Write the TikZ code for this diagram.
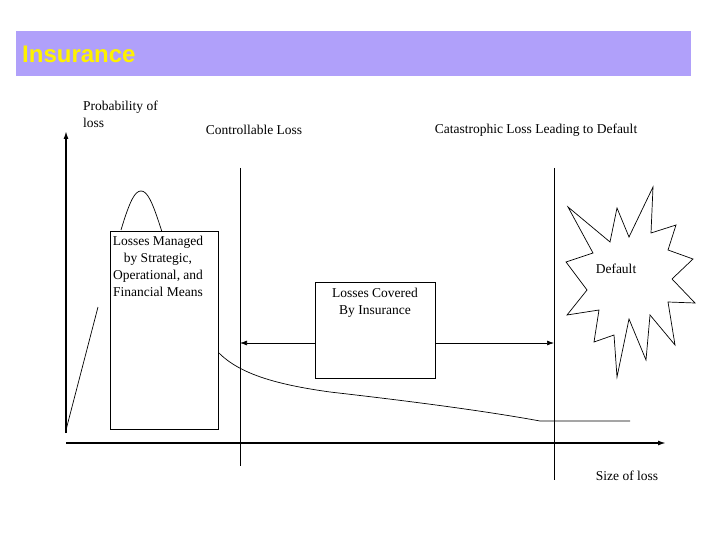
\documentclass[tikz,border=0pt]{standalone}
\usepackage{fontspec}
\setmainfont{Liberation Serif}
\newfontfamily\arial{Liberation Sans}
\definecolor{titlebg}{RGB}{176,160,250}
\begin{document}
\begin{tikzpicture}[x=1pt,y=-1pt,
  lbl/.style={font=\fontsize{13.5}{17}\selectfont,inner sep=0pt},
  axis/.style={line width=1.5pt,-{Latex[length=8pt,width=5pt]}},
  thin/.style={line width=0.7pt}]
\usetikzlibrary{arrows.meta}
\useasboundingbox (0,0) rectangle (720,540);
\fill[white] (0,0) rectangle (720,540);
\node[fill=titlebg,minimum width=675pt,minimum height=45pt,anchor=north west,inner sep=0pt] (title) at (16,31) {};
\node[anchor=west,font=\arial\bfseries\fontsize{24}{26}\selectfont,text=yellow,inner sep=0pt] (tt) at (22,54) {Insurance};
% curve
\draw[thin] (66,430) -- (98,307);
\draw[thin] (121,230) .. controls (130,200) and (135,191) .. (141,191) .. controls (147,191) and (152,200) .. (162,232);
\draw[thin] (218,352) .. controls (240,375) and (280,385) .. (330,392) .. controls (400,400) and (480,410) .. (540,421) -- (630,421);
% axes
\coordinate (o) at (66,443);
\coordinate (ytop) at (66,131);
\coordinate (xend) at (666,443);
\draw[axis] (66,433) -- (ytop);
\draw[axis] (o) -- (xend);
% verticals
\coordinate (v1t) at (240,168); \coordinate (v1b) at (240,466);
\coordinate (v2t) at (554,168); \coordinate (v2b) at (554,480);
\draw[thin] (v1t) -- (v1b);
\draw[thin] (v2t) -- (v2b);
\coordinate (a1) at (240,343); \coordinate (a2) at (554,343);
\draw[thin,{Latex[length=7pt,width=5pt]}-{Latex[length=7pt,width=5pt]}] (a1) -- (a2);
% boxes
\node[draw,thin,fill=white,minimum width=108pt,minimum height=198pt,anchor=north west,inner sep=0pt] (b1) at (110,231) {};
\node[lbl,align=center,anchor=north] (b1t) at (158,236) {Losses Managed\\by Strategic,\\Operational, and\\Financial Means};
\node[draw,thin,fill=white,minimum width=120pt,minimum height=96pt,anchor=north west,inner sep=0pt] (b2) at (315,282) {};
\node[lbl,align=center,anchor=north] (b2t) at (375,288) {Losses Covered\\By Insurance};
% star
\draw[thin] (568,207)--(610,242)--(617,208)--(629,237)--(653,187)--(651,233)--(676,225)--(668,250)--(693,259)--(672,279)--(695,303)--(668,302)--(675,345)--(650,315)--(646,360)--(629,319)--(617,377)--(614,335)--(594,342)--(599,310)--(567,315)--(587,290)--(566,262)--(593,253)--cycle;
\node[lbl] (def) at (616,269) {Default};
% labels
\node[lbl,align=left,anchor=north west] (py) at (83,101) {Probability of\\loss};
\node[lbl] (cl) at (254,130) {Controllable Loss};
\node[lbl] (cat) at (536,130) {Catastrophic Loss Leading to Default};
\node[lbl] (sz) at (627,476) {Size of loss};
\end{tikzpicture}
\end{document}
